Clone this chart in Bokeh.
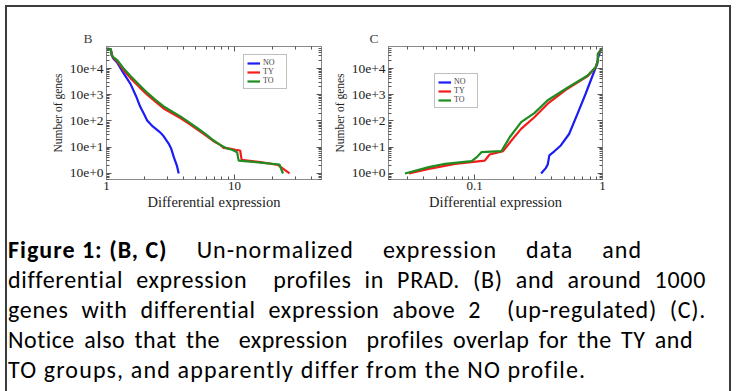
from bokeh.plotting import figure
from bokeh.layouts import column, row
from bokeh.models import (FixedTicker, CustomJSTickFormatter, LogAxis, Legend,
                          LegendItem, Div, Range1d)
from bokeh.embed import file_html
from bokeh.resources import INLINE

# ---------------- data ----------------
# Panel B : differential expression (x) vs number of genes (y)
b_no_x = [1.00, 1.08, 1.10, 1.13, 1.21, 1.35, 1.54, 1.70, 1.84, 1.96, 2.08, 2.30, 2.64, 2.80, 3.07, 3.20, 3.36, 3.55, 3.67]
b_no_y = [56000, 55000, 32000, 24000, 17000, 7000, 2600, 900, 340, 190, 105, 62, 36, 26, 13.5, 9, 4.2, 2.0, 1.0]

b_ty_x = [1.00, 1.08, 1.10, 1.13, 1.21, 1.35, 1.54, 1.80, 2.08, 2.40, 2.80, 3.30, 3.78, 4.40, 5.11, 6.00, 6.88, 7.80, 8.20, 9.00, 10.2, 11.1, 11.4, 16.0, 22.0, 27.0]
b_ty_y = [56000, 55000, 32000, 26000, 19000, 9000, 4300, 2000, 1000, 560, 300, 190, 130, 80, 48, 28, 17, 12, 9.5, 9.0, 8.0, 7.5, 3.3, 2.7, 2.1, 1.0]

b_to_x = [1.00, 1.08, 1.10, 1.13, 1.21, 1.35, 1.54, 1.80, 2.08, 2.40, 2.80, 3.30, 3.78, 4.40, 5.11, 6.00, 6.88, 7.80, 8.77, 9.60, 10.5, 10.8, 16.0, 22.5, 24.0]
b_to_y = [56000, 55000, 32000, 27000, 21000, 10500, 5200, 2400, 1200, 650, 360, 220, 150, 90, 54, 31, 18, 12, 9, 8, 6.5, 3.1, 2.6, 2.2, 1.0]

# Panel C
c_no_x = [0.331, 0.360, 0.373, 0.384, 0.420, 0.472, 0.548, 0.637, 0.738, 0.856, 0.910, 0.920, 0.965, 1.0]
c_no_y = [1.0, 1.6, 2.2, 4.9, 7.0, 11.7, 32, 188, 1090, 7200, 15000, 24000, 49000, 58000]

c_ty_x = [0.0306, 0.0438, 0.0703, 0.120, 0.131, 0.167, 0.194, 0.231, 0.293, 0.373, 0.532, 0.761, 0.883, 0.920, 0.920, 0.965, 1.0]
c_ty_y = [1.0, 1.5, 2.34, 3.1, 5.3, 7.1, 18, 50, 139, 455, 1700, 5000, 11000, 20000, 36000, 49000, 58000]

c_to_x = [0.0285, 0.0438, 0.0589, 0.0948, 0.104, 0.113, 0.162, 0.188, 0.231, 0.293, 0.373, 0.532, 0.761, 0.883, 0.920, 0.920, 0.965, 1.0]
c_to_y = [1.0, 1.74, 2.34, 2.94, 4.2, 6.5, 7.1, 24, 90, 200, 620, 1850, 5300, 11200, 20000, 36000, 49000, 58000]

labels = ["NO", "TY", "TO"]
colors = ["#1c1cf5", "#f51c1c", "#1e8c1e"]

y_major = [1, 10, 100, 1000, 10000]
y_minor = [m * 10 ** e for e in range(-1, 5) for m in range(2, 10)]
b_x_major = [1, 10]
b_x_minor = [m * 10 ** e for e in range(0, 2) for m in range(2, 10)]
c_x_major = [0.1, 1]
c_x_minor = [m * 10 ** e for e in range(-2, 0) for m in range(2, 10)]

# (html, justified, right margin px, letter spacing px)
caption_lines = [
    ('<span style="display:inline-block;font-weight:bold;">Figure 1: (B, C)</span>'
     ' Un-normalized expression data and', True, 64, 1.0),
    ("differential expression&nbsp; profiles in PRAD. (B) and around 1000", True, 0, 0.7),
    ("genes with differential expression above 2&nbsp; (up-regulated) (C).", True, 0, 0.7),
    ("Notice also that the&nbsp; expression&nbsp; profiles overlap for the TY and", True, 13, 0.5),
    ("TO groups, and apparently differ from the NO profile.", False, 0, 1.15),
]

SERIF = "Liberation Serif"
FRAME = "#8a8a8a"


def style_axis(ax, show_labels):
    ax.axis_line_color = FRAME
    ax.major_tick_line_color = "#555555"
    ax.minor_tick_line_color = "#555555"
    ax.major_tick_in = 5
    ax.major_tick_out = 0
    ax.minor_tick_in = 3
    ax.minor_tick_out = 0
    ax.major_label_text_font = SERIF
    ax.major_label_text_color = "#222222"
    ax.axis_label_text_font = SERIF
    ax.axis_label_text_font_style = "normal"
    ax.axis_label_text_color = "#222222"
    if not show_labels:
        ax.major_label_text_font_size = "1px"
        ax.major_label_text_alpha = 0
        ax.major_label_standoff = 0


def panel(title, xr, xmaj, xmin, width, left, right, xs, ys, leg_loc, t_off):
    p = figure(width=width, height=208, x_axis_type="log", y_axis_type="log",
               x_range=Range1d(*xr), y_range=Range1d(0.59, 68900),
               output_backend="svg", toolbar_location=None,
               min_border_left=left, min_border_right=right,
               min_border_top=39, min_border_bottom=36,
               title=title)
    p.title.text_font = SERIF
    p.title.text_font_size = "13.5px"
    p.title.text_font_style = "normal"
    p.title.align = "left"
    p.title.offset = t_off
    p.title.standoff = 2
    p.xgrid.visible = False
    p.ygrid.visible = False
    p.outline_line_color = FRAME
    p.background_fill_color = "white"
    p.border_fill_color = "white"

    p.xaxis[0].ticker = FixedTicker(ticks=xmaj, minor_ticks=xmin)
    p.yaxis[0].ticker = FixedTicker(ticks=y_major, minor_ticks=y_minor)
    p.xaxis[0].formatter = CustomJSTickFormatter(code="return String(tick);")
    p.yaxis[0].formatter = CustomJSTickFormatter(
        code="return '10e+' + Math.round(Math.log10(tick));")
    p.xaxis[0].axis_label = "Differential expression"
    p.yaxis[0].axis_label = "Number of genes"
    style_axis(p.xaxis[0], True)
    style_axis(p.yaxis[0], True)
    p.xaxis[0].major_label_text_font_size = "13px"
    p.yaxis[0].major_label_text_font_size = "13.5px"
    p.xaxis[0].axis_label_text_font_size = "14.5px"
    p.yaxis[0].axis_label_text_font_size = "11.5px"
    p.xaxis[0].major_label_standoff = 2
    p.yaxis[0].major_label_standoff = 3
    p.xaxis[0].axis_label_standoff = 1
    p.yaxis[0].axis_label_standoff = 3

    top = LogAxis(ticker=FixedTicker(ticks=xmaj, minor_ticks=xmin))
    rgt = LogAxis(ticker=FixedTicker(ticks=y_major, minor_ticks=y_minor))
    style_axis(top, False)
    style_axis(rgt, False)
    p.add_layout(top, "above")
    p.add_layout(rgt, "right")

    items = []
    for lab, col, x, y in zip(labels, colors, xs, ys):
        r = p.line(x, y, line_color=col, line_width=2.2)
        items.append(LegendItem(label=lab, renderers=[r]))
    leg = Legend(items=items, location=leg_loc)
    leg.label_text_font = SERIF
    leg.label_text_font_size = "8px"
    leg.label_height = 8
    leg.glyph_height = 8
    leg.glyph_width = 13
    leg.label_standoff = 3
    leg.spacing = 0
    leg.padding = 3
    leg.margin = 0
    leg.border_line_color = "#808080"
    leg.border_line_width = 1
    leg.background_fill_alpha = 1
    p.add_layout(leg)
    return p


pB = panel("B", (1, 48), b_x_major, b_x_minor, 323, 99, 9,
           [b_no_x, b_ty_x, b_to_x], [b_no_y, b_ty_y, b_to_y], (137, 90), -23)
pC = panel("C", (0.0212, 1), c_x_major, c_x_minor, 399, 56, 127,
           [c_no_x, c_ty_x, c_to_x], [c_no_y, c_ty_y, c_to_y], (46, 71), -19)

parts = []
for txt, just, mr, ls in caption_lines:
    align = ("text-align: justify; text-align-last: justify; white-space: nowrap;"
             if just else "text-align: left; white-space: nowrap;")
    parts.append(f'<div style="{align} margin-right:{mr}px; letter-spacing:{ls}px;">{txt}</div>')
html = ('<div style="font-family: Carlito, Calibri, Lato, sans-serif; font-size: 24px; '
        'line-height: 30px; color: #000; '
        'padding: 20px 11px 0 1px; width: 710px;">'
        + "".join(parts) + "</div>")
cap = Div(text=html, width=722, height=176, styles={"margin": "0", "padding": "0"})

root = column(row(pB, pC, spacing=0), cap, spacing=0,
              styles={"border-top": "2px solid #3c3c3c", "border-left": "2px solid #3c3c3c",
                      "border-right": "2px solid #3c3c3c",
                      "margin-left": "5px", "margin-top": "5px", "background": "white"})

open("out.html", "w").write(file_html(root, INLINE))
